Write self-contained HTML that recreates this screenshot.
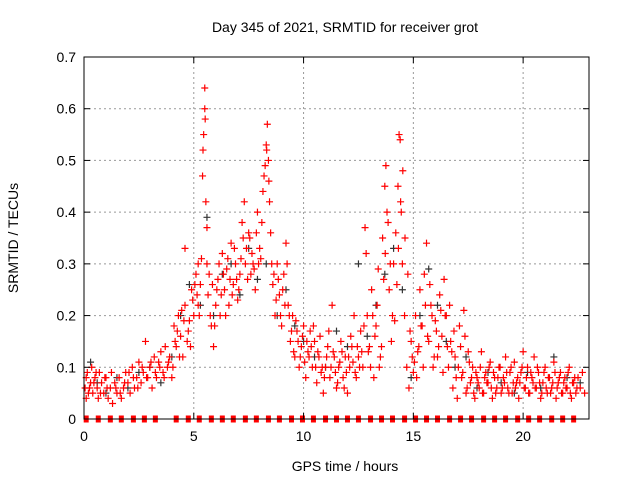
<!DOCTYPE html>
<html><head><meta charset="utf-8"><style>
body{margin:0;background:#fff;}
svg text{font-family:"Liberation Sans",sans-serif;font-size:14px;fill:#000;}
</style></head><body>
<svg id="chart" width="640" height="480" viewBox="0 0 640 480">
<rect width="640" height="480" fill="#fff"/>
<g id="grid"></g><g id="black"></g><g id="red"></g><g id="axes"></g>
<text x="345" y="32" text-anchor="middle">Day 345 of 2021, SRMTID for receiver grot</text>
<text x="345" y="471" text-anchor="middle">GPS time / hours</text>
<text transform="translate(18,238) rotate(-90)" text-anchor="middle">SRMTID / TECUs</text>
</svg>
<script>
const xTicks=[0,5,10,15,20];
const yTicks=[0,0.1,0.2,0.3,0.4,0.5,0.6,0.7];
const yTickLabels=["0","0.1","0.2","0.3","0.4","0.5","0.6","0.7"];
const redX=[0.05,0.1,0.15,0.2,0.3,0.35,0.4,0.5,0.6,0.65,0.7,0.8,0.9,1.0,1.1,1.2,1.3,1.4,1.5,1.6,1.7,1.8,1.9,2.0,2.1,2.2,2.3,2.4,2.5,2.6,2.7,2.8,2.9,3.0,3.1,3.2,3.3,3.4,3.5,3.6,3.7,3.8,3.9,4.0,4.1,4.2,4.3,4.4,4.5,4.6,4.6,4.7,4.8,4.9,5.0,5.1,5.2,5.2,5.3,5.4,5.45,5.5,5.5,5.55,5.6,5.65,5.7,5.8,5.9,6.0,6.1,6.2,6.3,6.4,6.5,6.6,6.7,6.8,6.9,7.0,7.1,7.2,7.3,7.4,7.5,7.6,7.7,7.8,7.9,8.0,8.1,8.2,8.3,8.35,8.4,8.45,8.5,8.6,8.7,8.8,8.9,9.0,9.1,9.2,9.3,9.4,9.5,9.6,9.7,9.8,9.9,10.0,10.1,10.2,10.3,10.4,10.5,10.6,10.7,10.8,10.9,11.0,11.1,11.2,11.3,11.4,11.5,11.6,11.7,11.8,11.9,12.0,12.1,12.2,12.3,12.4,12.5,12.6,12.7,12.8,12.85,12.9,13.0,13.1,13.2,13.3,13.4,13.5,13.6,13.7,13.75,13.8,13.9,14.0,14.1,14.2,14.3,14.35,14.4,14.45,14.5,14.6,14.7,14.8,14.9,15.0,15.1,15.2,15.3,15.4,15.5,15.6,15.7,15.8,15.9,16.0,16.1,16.2,16.3,16.4,16.5,16.6,16.7,16.8,16.9,17.0,17.1,17.2,17.3,17.4,17.5,17.6,17.7,17.8,17.9,18.0,18.1,18.2,18.3,18.4,18.5,18.6,18.7,18.8,18.9,19.0,19.1,19.2,19.3,19.4,19.5,19.6,19.7,19.8,19.9,20.0,20.1,20.2,20.3,20.4,20.5,20.6,20.7,20.8,20.9,21.0,21.1,21.2,21.3,21.4,21.5,21.6,21.7,21.8,21.9,22.0,22.1,22.2,22.3,22.4,22.5,22.6,22.7,22.8];
const redY=[.06,.04,.09,.05,.07,.1,.05,.08,.06,.04,.09,.07,.05,.08,.04,.06,.03,.07,.05,.08,.04,.06,.09,.07,.05,.1,.06,.08,.11,.07,.09,.15,.08,.1,.06,.12,.08,.11,.13,.09,.14,.1,.12,.08,.18,.14,.2,.16,.12,.33,.22,.15,.19,.25,.2,.28,.3,.22,.26,.47,.55,.64,.6,.42,.3,.24,.28,.18,.14,.22,.27,.2,.32,.25,.29,.22,.34,.26,.3,.23,.28,.38,.42,.33,.36,.28,.3,.25,.4,.33,.38,.47,.53,.57,.5,.42,.36,.26,.2,.3,.24,.18,.28,.34,.22,.15,.2,.12,.17,.1,.14,.18,.08,.13,.17,.1,.15,.07,.12,.09,.05,.1,.14,.08,.22,.12,.06,.1,.15,.08,.12,.05,.1,.14,.2,.08,.12,.17,.1,.37,.32,.2,.14,.25,.08,.18,.29,.12,.35,.45,.49,.4,.25,.15,.3,.36,.45,.55,.54,.4,.3,.2,.1,.06,.15,.09,.2,.13,.25,.18,.28,.34,.15,.22,.1,.19,.12,.24,.16,.27,.2,.1,.15,.06,.12,.04,.18,.08,.21,.05,.13,.07,.1,.04,.08,.06,.13,.05,.09,.07,.11,.04,.08,.06,.1,.05,.08,.12,.06,.09,.05,.11,.07,.04,.09,.13,.06,.1,.05,.08,.12,.06,.09,.04,.07,.1,.05,.08,.06,.11,.04,.07,.09,.05,.08,.06,.1,.04,.07,.05,.08,.06,.09,.05];
const red2X=[0.1,0.25,0.45,0.55,0.75,0.95,1.05,1.25,1.45,1.65,1.85,2.05,2.25,2.45,2.65,2.85,3.05,3.25,3.45,3.65,3.85,4.05,4.15,4.25,4.35,4.45,4.55,4.75,4.85,4.95,5.05,5.15,5.25,5.35,5.42,5.52,5.6,5.75,5.85,5.95,6.05,6.15,6.25,6.35,6.45,6.55,6.65,6.75,6.85,6.95,7.05,7.15,7.25,7.35,7.45,7.55,7.65,7.75,7.85,7.95,8.05,8.15,8.25,8.32,8.42,8.55,8.65,8.75,8.85,8.95,9.05,9.15,9.25,9.35,9.45,9.55,9.65,9.75,9.85,9.95,10.05,10.15,10.25,10.35,10.45,10.55,10.65,10.75,10.85,10.95,11.05,11.15,11.25,11.35,11.45,11.55,11.65,11.75,11.85,11.95,12.05,12.15,12.25,12.35,12.45,12.55,12.65,12.75,12.95,13.05,13.15,13.25,13.35,13.45,13.55,13.65,13.72,13.85,13.95,14.05,14.15,14.25,14.32,14.42,14.52,14.62,14.75,14.85,14.95,15.05,15.15,15.25,15.35,15.45,15.55,15.65,15.75,15.85,15.95,16.05,16.15,16.25,16.35,16.45,16.55,16.65,16.75,16.85,16.95,17.05,17.15,17.25,17.35,17.45,17.55,17.65,17.75,17.85,17.95,18.05,18.15,18.25,18.35,18.45,18.55,18.65,18.75,18.85,18.95,19.05,19.15,19.25,19.35,19.45,19.55,19.65,19.75,19.85,19.95,20.05,20.15,20.25,20.35,20.45,20.55,20.65,20.75,20.85,20.95,21.05,21.15,21.25,21.35,21.45,21.55,21.65,21.75,21.85,21.95,22.05,22.15,22.25,22.35,22.45,22.55,22.65,22.75];
const red2Y=[.08,.06,.07,.09,.05,.08,.06,.09,.06,.05,.07,.09,.08,.06,.1,.08,.11,.09,.1,.08,.11,.1,.15,.17,.12,.21,.19,.17,.14,.23,.26,.24,.2,.31,.52,.58,.37,.2,.26,.18,.25,.3,.24,.28,.2,.31,.27,.24,.33,.27,.25,.31,.35,.3,.27,.35,.32,.29,.36,.3,.31,.44,.49,.52,.46,.3,.28,.23,.27,.2,.25,.22,.3,.2,.17,.13,.19,.15,.12,.16,.11,.15,.12,.14,.18,.1,.13,.16,.1,.08,.12,.17,.1,.13,.09,.07,.11,.13,.06,.09,.12,.16,.11,.09,.14,.1,.13,.18,.13,.1,.2,.16,.22,.1,.14,.27,.32,.38,.3,.2,.19,.26,.33,.42,.48,.35,.28,.17,.12,.11,.08,.14,.18,.1,.22,.16,.26,.2,.12,.17,.14,.21,.09,.2,.14,.22,.13,.17,.08,.1,.14,.09,.16,.06,.11,.08,.05,.09,.07,.1,.05,.08,.07,.1,.06,.09,.05,.08,.1,.06,.07,.09,.05,.1,.07,.06,.08,.07,.1,.06,.08,.05,.09,.07,.06,.1,.07,.05,.09,.06,.08,.05,.07,.09,.06,.08,.05,.07,.06,.09,.05,.07,.08,.06];
const blackX=[0.3,0.6,1.0,1.5,2.0,2.5,3.0,3.5,4.0,4.4,4.8,5.3,5.6,5.9,6.3,6.7,7.1,7.5,7.9,8.3,8.8,9.2,9.6,10.0,10.5,11.0,11.5,12.0,12.5,12.9,13.3,13.7,14.1,14.5,14.9,15.3,15.7,16.1,16.5,16.9,17.4,17.9,18.4,19.0,19.6,20.2,20.8,21.4,22.0,22.6];
const blackY=[.11,.07,.05,.08,.06,.09,.1,.07,.12,.2,.26,.22,.39,.2,.28,.3,.24,.33,.27,.3,.2,.25,.18,.15,.12,.1,.17,.14,.3,.16,.22,.28,.33,.25,.08,.2,.29,.22,.15,.1,.12,.06,.09,.07,.05,.09,.06,.12,.08,.07];
const zeroX=[0.1,0.65,1.2,1.7,2.25,2.75,3.25,4.2,4.75,5.25,5.8,6.3,6.8,7.35,7.85,8.4,8.9,9.45,9.95,10.45,11.0,11.5,12.0,12.5,13.05,13.55,14.05,14.6,15.1,15.6,16.1,16.65,17.15,17.65,18.2,18.7,19.2,19.75,20.25,20.75,21.3,21.8,22.3];
const L=84,R=589,T=57,B=419,XMAX=23,YMAX=0.7;
const sx=v=>L+v/XMAX*(R-L), sy=v=>B-v/YMAX*(B-T);
const NS="http://www.w3.org/2000/svg";
function mk(tag,attrs,parent){const e=document.createElementNS(NS,tag);for(const k in attrs)e.setAttribute(k,attrs[k]);parent.appendChild(e);return e;}
const grid=document.getElementById('grid'),ax=document.getElementById('axes');
xTicks.forEach((t,i)=>{const x=sx(t);
 if(t>0){const g=mk('line',{x1:x,x2:x,y1:T,y2:B,stroke:'#999','stroke-dasharray':'2,3','stroke-width':1},grid);
 
 }
 mk('line',{x1:x,x2:x,y1:B,y2:B-6,stroke:'#000'},ax);mk('line',{x1:x,x2:x,y1:T,y2:T+6,stroke:'#000'},ax);
 const tx=mk('text',{x:x,y:B+22,'text-anchor':'middle'},ax);tx.textContent=t;
 
 });
yTicks.forEach((t,i)=>{const y=sy(t);
 if(t>0&&t<YMAX){const g=mk('line',{x1:L,x2:R,y1:y,y2:y,stroke:'#999','stroke-dasharray':'2,3','stroke-width':1},grid);
 
 }
 mk('line',{x1:L,x2:L+6,y1:y,y2:y,stroke:'#000'},ax);mk('line',{x1:R,x2:R-6,y1:y,y2:y,stroke:'#000'},ax);
 const tx=mk('text',{x:L-8,y:y+5,'text-anchor':'end'},ax);tx.textContent=yTickLabels[i];
 
 });
const fr=mk('rect',{x:L,y:T,width:R-L,height:B-T,fill:'none',stroke:'#000','stroke-width':1},ax);


function plus(g,x,y,c,name){const p=mk('path',{d:`M${x-3.5},${y}h7M${x},${y-3.5}v7`,stroke:c,'stroke-width':1.2,fill:'none'},g);
 
 }
const bg=document.getElementById('black'),rg=document.getElementById('red');
blackX.forEach((x,i)=>plus(bg,sx(x),sy(blackY[i]),'#333','black-point'));
redX.forEach((x,i)=>plus(rg,sx(x),sy(redY[i]),'#f00','red-point'));
red2X.forEach((x,i)=>plus(rg,sx(x),sy(red2Y[i]),'#f00','red-point'));
zeroX.forEach(x=>{const r=mk('rect',{x:sx(x)-2.5,y:B-3.5,width:5,height:7,fill:'#f00'},rg);
 
 });
</script>
</body></html>
